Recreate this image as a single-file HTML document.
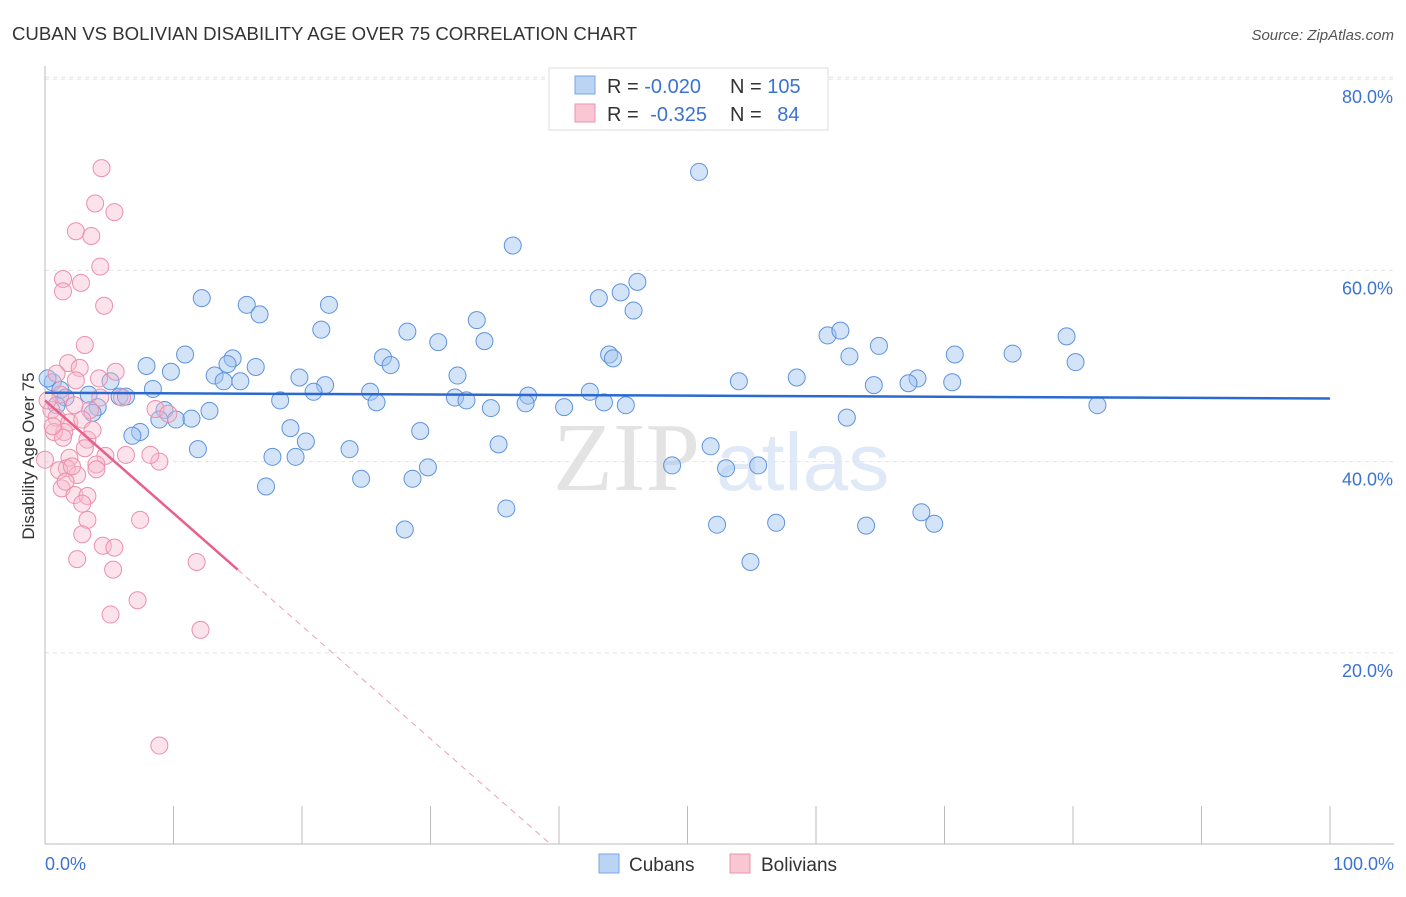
<!DOCTYPE html>
<html><head><meta charset="utf-8"><style>
body{margin:0;background:#fff;font-family:"Liberation Sans",sans-serif}
</style></head><body>
<svg width="1406" height="892" xmlns="http://www.w3.org/2000/svg">
<text x="12" y="40" font-size="18.6" fill="#333">CUBAN VS BOLIVIAN DISABILITY AGE OVER 75 CORRELATION CHART</text>
<text x="1394" y="40" font-size="15" fill="#555" font-style="italic" text-anchor="end">Source: ZipAtlas.com</text>
<g>
<text x="553" y="490" font-family="Liberation Serif,serif" font-size="98" fill="#e3e3e3">ZIP</text>
<text x="716" y="490" font-size="82" fill="#dfe9f7">atlas</text>
</g>
<g id="grid"></g>
<g id="axes"></g>
<text transform="translate(34,456) rotate(-90)" font-size="17" fill="#333" text-anchor="middle">Disability Age Over 75</text>
<g id="pts"></g>
<g id="lines"></g>
<g>
<rect x="549" y="68" width="279" height="62" fill="#fff" stroke="#ddd"/>
<rect x="575" y="76" width="20" height="18" fill="#bcd4f4" stroke="#7aa6e6"/>
<rect x="575" y="104" width="20" height="18" fill="#f9c6d4" stroke="#ee93ad"/>
<text x="607" y="93" font-size="20" fill="#333">R = <tspan fill="#3b73d1">-0.020</tspan></text>
<text x="730" y="93" font-size="20" fill="#333">N = <tspan fill="#3b73d1">105</tspan></text>
<text x="607" y="121" font-size="20" fill="#333">R = <tspan fill="#3b73d1" dx="6">-0.325</tspan></text>
<text x="730" y="121" font-size="20" fill="#333">N = <tspan fill="#3b73d1" dx="10">84</tspan></text>
</g>
<g>
<rect x="599" y="854" width="20" height="19" fill="#bcd4f4" stroke="#7aa6e6"/>
<text x="629" y="871" font-size="19" fill="#333">Cubans</text>
<rect x="730" y="854" width="20" height="19" fill="#f9c6d4" stroke="#ee93ad"/>
<text x="761" y="871" font-size="19" fill="#333">Bolivians</text>
</g>
</svg>
<script>
const yTicks=[20,40,60,80];
const yTickLabels=["20.0%","40.0%","60.0%","80.0%"];
const xTicks=[0,10,20,30,40,50,60,70,80,90,100];
const xEndLabels=["0.0%","100.0%"];
const cubanX=[50.9,36.4,12.2,15.7,16.7,22.1,46.1,44.8,43.1,45.8,33.6,21.5,28.2,34.2,30.6,60.9,61.9,79.5,64.9,10.9,14.6,26.3,26.9,43.9,44.2,62.6,70.8,75.3,80.2,7.9,9.8,14.2,16.4,13.2,13.9,15.2,19.8,32.1,58.5,54.0,67.9,67.2,64.5,70.6,5.1,8.4,21.8,20.9,25.3,3.4,5.8,6.3,0.6,1.2,1.6,0.9,18.3,25.8,31.9,32.8,37.6,37.4,42.4,43.5,45.2,40.4,34.7,81.9,4.1,3.7,9.3,12.8,8.9,10.2,11.4,62.4,19.1,29.2,7.4,6.8,20.3,35.3,51.8,11.9,23.7,17.7,19.5,29.8,48.8,53.0,55.5,24.6,28.6,17.2,35.9,28.0,52.3,56.9,63.9,68.2,69.2,54.9,0.2];
const cubanY=[70.3,62.6,57.1,56.4,55.4,56.4,58.8,57.7,57.1,55.8,54.8,53.8,53.6,52.6,52.5,53.2,53.7,53.1,52.1,51.2,50.8,50.9,50.1,51.2,50.8,51.0,51.2,51.3,50.4,50.0,49.4,50.2,49.9,49.0,48.4,48.4,48.8,49.0,48.8,48.4,48.7,48.2,48.0,48.3,48.4,47.6,48.0,47.3,47.3,47.0,46.8,46.8,48.3,47.5,46.7,45.9,46.4,46.2,46.7,46.4,46.9,46.1,47.3,46.2,45.9,45.7,45.6,45.9,45.7,45.1,45.4,45.3,44.4,44.4,44.5,44.6,43.5,43.2,43.1,42.7,42.1,41.8,41.6,41.3,41.3,40.5,40.5,39.4,39.6,39.3,39.6,38.2,38.2,37.4,35.1,32.9,33.4,33.6,33.3,34.7,33.5,29.5,48.7];
const bolX=[4.4,3.9,5.4,2.4,3.6,4.3,1.4,1.4,2.8,4.6,3.1,1.8,2.7,0.9,5.5,4.2,2.4,4.3,1.2,0.5,0.9,1.9,1.5,0.7,3.5,1.4,3.3,3.1,1.9,4.7,6.3,8.9,8.2,1.7,4.0,1.1,2.5,1.3,2.3,3.3,2.9,3.3,7.4,2.9,4.5,5.4,2.5,11.8,5.3,7.2,5.1,12.1,8.9,8.6,9.6,6.0,0.2,0.6,2.3,2.9,3.7,0.0,4.0,2.1,1.6];
const bolY=[70.7,67.0,66.1,64.1,63.6,60.4,59.1,57.8,58.7,56.3,52.2,50.3,49.8,49.2,49.4,48.7,48.5,46.7,47.0,45.4,44.6,44.1,43.1,43.1,45.4,42.5,42.3,41.4,40.4,40.6,40.7,40.0,40.7,39.3,39.7,39.1,38.6,37.2,36.5,36.4,35.6,33.9,33.9,32.4,31.2,31.0,29.8,29.5,28.7,25.5,24.0,22.4,10.3,45.5,45.0,46.7,46.4,43.7,45.9,44.4,43.3,40.2,39.2,39.5,37.9];
const cubanTrend=[47.2,46.6];
const bolTrend=[46.4,-1.18];
const NS="http://www.w3.org/2000/svg";
const X=v=>45+v*12.85, Y=v=>844-v*9.56;
function mk(tag,attrs,parent){const e=document.createElementNS(NS,tag);for(const k in attrs)e.setAttribute(k,attrs[k]);document.getElementById(parent).appendChild(e);return e;}
mk('line',{x1:45,y1:Y(80)-2,x2:1394,y2:Y(80)-2,stroke:'#e4e4e4','stroke-dasharray':'4,4'},'grid');
yTicks.forEach((t,i)=>{
 const l=mk('line',{x1:45,y1:Y(t),x2:1394,y2:Y(t),stroke:'#e4e4e4','stroke-dasharray':'4,4'},'grid');
 
 
 const tx=mk('text',{x:1393,y:Y(t)+24,'font-size':18,fill:'#3b73d1','text-anchor':'end'},'grid');
 tx.textContent=yTickLabels[i];
 
 
});
mk('line',{x1:45,y1:66,x2:45,y2:844,stroke:'#bbb'},'axes');
mk('line',{x1:45,y1:844,x2:1394,y2:844,stroke:'#bbb'},'axes');
xTicks.forEach(t=>{const l=mk('line',{x1:X(t),y1:806,x2:X(t),y2:844,stroke:'#bbb'},'axes');
 
 });
[[0,'start',45],[100,'end',1394]].forEach((d,i)=>{const tx=mk('text',{x:d[2],y:870,'font-size':18,fill:'#3b73d1','text-anchor':d[1]},'axes');tx.textContent=xEndLabels[i];
 
 });
cubanX.forEach((x,i)=>{const c=mk('circle',{cx:X(x),cy:Y(cubanY[i]),r:8.5,fill:'rgba(160,196,240,0.45)',stroke:'#5e93dd','stroke-width':1},'pts');
 
 });
bolX.forEach((x,i)=>{const c=mk('circle',{cx:X(x),cy:Y(bolY[i]),r:8.5,fill:'rgba(247,184,204,0.4)',stroke:'#ec8fab','stroke-width':1},'pts');
 
 });
let l=mk('line',{x1:X(0),y1:Y(cubanTrend[0]),x2:X(100),y2:Y(cubanTrend[1]),stroke:'#2a6ad0','stroke-width':2.5},'lines');


const bz=-bolTrend[0]/bolTrend[1];
l=mk('line',{x1:X(0),y1:Y(bolTrend[0]),x2:X(15),y2:Y(bolTrend[0]+bolTrend[1]*15),stroke:'#e8608a','stroke-width':2.5},'lines');


l=mk('line',{x1:X(15),y1:Y(bolTrend[0]+bolTrend[1]*15),x2:X(bz),y2:Y(0),stroke:'#e8a0b6','stroke-width':1,'stroke-dasharray':'6,5'},'lines');


</script>
</body></html>
